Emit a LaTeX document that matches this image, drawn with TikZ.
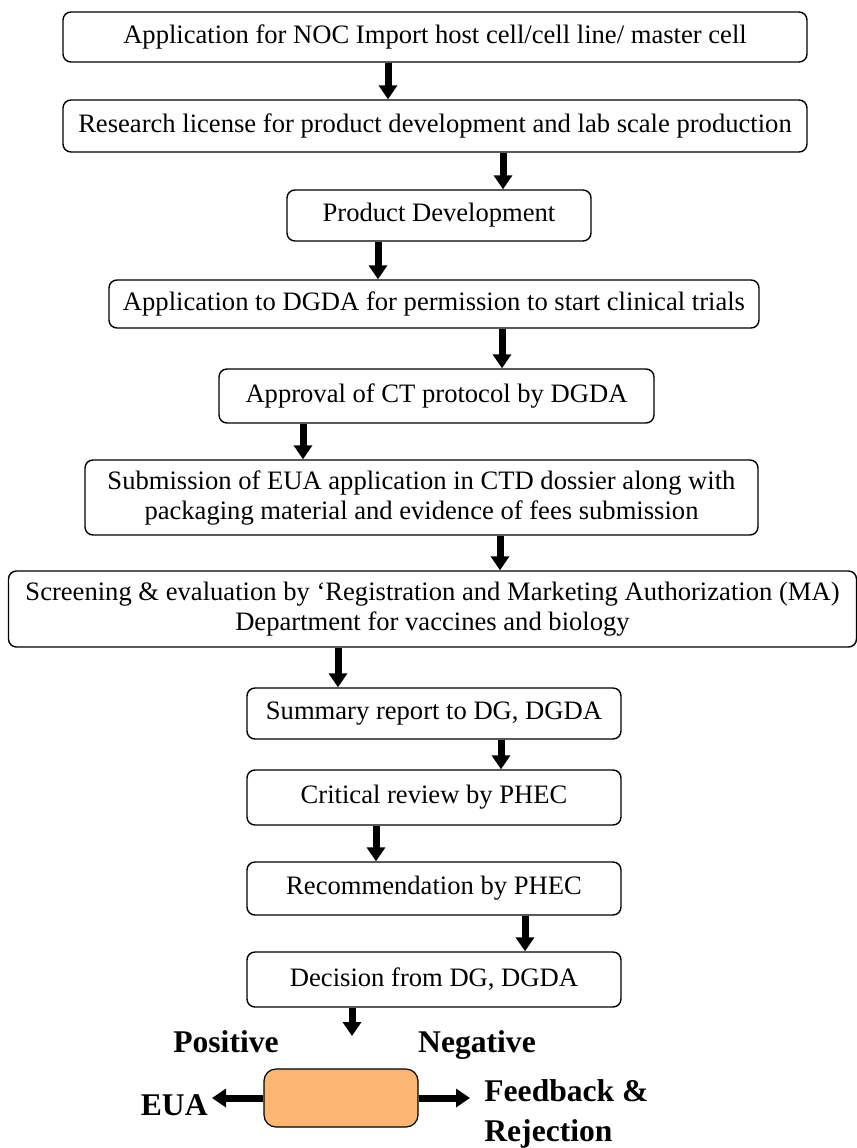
\documentclass[tikz,border=0pt]{standalone}
\usepackage{fontspec}
\setmainfont{Liberation Serif}
\usetikzlibrary{arrows.meta}
\definecolor{decisionfill}{RGB}{250,182,114}

\begin{document}
\begin{tikzpicture}[
        x=0.5pt, y=-0.5pt,
        every node/.style={font=\fontsize{13.3}{15}\selectfont},
        stage/.style={draw, rounded corners=4pt, line width=0.7pt, align=center, inner sep=2pt},
        flow/.style={line width=3.5pt, -{Triangle[width=9pt, length=7pt]}},
        outcome/.style={font=\fontsize{15.8}{20}\selectfont\bfseries, align=left, inner sep=2pt}
    ]
        \useasboundingbox (0,0) rectangle (857,1148);

        % Steps of the approval
        \node[stage, minimum width=372pt, minimum height=25pt] (noc) at (435,37) {Application for NOC Import host cell/cell line/ master cell};
        \node[stage, minimum width=372pt, minimum height=26pt] (research) at (435,126) {Research license for product development and lab scale production};
        \node[stage, minimum width=152pt, minimum height=25.5pt] (product) at (439,215.5) {Product Development};
        \node[stage, minimum width=325pt, minimum height=24pt] (trialapp) at (434,304) {Application to DGDA for permission to start clinical trials};
        \node[stage, minimum width=217.5pt, minimum height=27pt] (protocol) at (436.5,396) {Approval of CT protocol by DGDA};
        \node[stage, minimum width=336.5pt, minimum height=37.5pt] (submission) at (421.5,497.5) {Submission of EUA application in CTD dossier along with\\packaging material and evidence of fees submission};
        \node[stage, minimum width=424pt, minimum height=38pt] (screening) at (432.5,609) {Screening \& evaluation by `Registration and Marketing Authorization (MA)\\Department for vaccines and biology};
        \node[stage, minimum width=187pt, minimum height=25.5pt] (summary) at (434,713.5) {Summary report to DG, DGDA};
        \node[stage, minimum width=187pt, minimum height=27.5pt] (review) at (434,797.5) {Critical review by PHEC};
        \node[stage, minimum width=187pt, minimum height=26.5pt] (recommend) at (434,888.5) {Recommendation by PHEC};
        \node[stage, minimum width=187pt, minimum height=27.5pt] (decision) at (434,979.5) {Decision from DG, DGDA};

        % Arrows between the steps
        \draw[flow] (noc.south -| 388,0) -- (research.north -| 388,0);
        \draw[flow] (research.south -| 503,0) -- (product.north -| 503,0);
        \draw[flow] (product.south -| 378,0) -- (trialapp.north -| 378,0);
        \draw[flow] (trialapp.south -| 502,0) -- (protocol.north -| 502,0);
        \draw[flow] (protocol.south -| 303,0) -- (submission.north -| 303,0);
        \draw[flow] (submission.south -| 500,0) -- (screening.north -| 500,0);
        \draw[flow] (screening.south -| 338,0) -- (summary.north -| 338,0);
        \draw[flow] (summary.south -| 501,0) -- (review.north -| 501,0);
        \draw[flow] (review.south -| 376,0) -- (recommend.north -| 376,0);
        \draw[flow] (recommend.south -| 525,0) -- (decision.north -| 525,0);
        \coordinate (split) at (352,1036);
        \draw[flow] (decision.south -| split) -- (split);

        % Outcome of the decision
        \node[outcome, anchor=base] (positive) at (226,1052) {Positive};
        \node[outcome, anchor=base] (negative) at (477,1052) {Negative};
        \node[draw, fill=decisionfill, rounded corners=6pt, line width=0.6pt, minimum width=77pt, minimum height=29pt] (result) at (341,1098) {};
        \node[outcome, anchor=east] (eua) at (212,1105) {EUA};
        \node[outcome, anchor=west] (reject) at (480,1114) {Feedback \&\\Rejection};
        \draw[flow] (result.west) -- (eua.east |- result.west);
        \draw[flow, shorten >=5pt] (result.east) -- (reject.west |- result.east);
    \end{tikzpicture}
\end{document}
